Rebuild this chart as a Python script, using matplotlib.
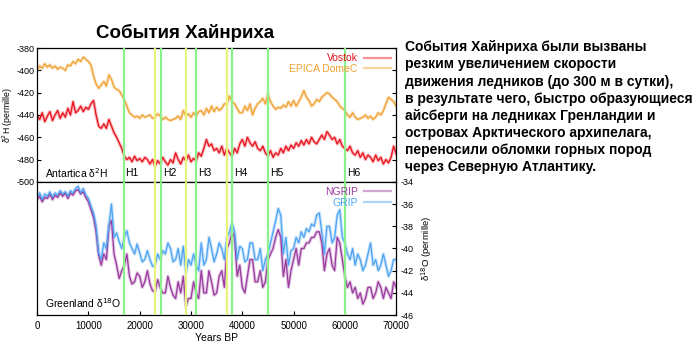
import numpy as np
import matplotlib
matplotlib.use("Agg")
import matplotlib.pyplot as plt

plt.rcParams['font.family'] = ['Liberation Sans', 'DejaVu Sans']
plt.rcParams['axes.unicode_minus'] = False

# years BP, 500-year step
years = list(range(0, 70001, 500))

vostok = [
    -440, -444, -438, -446, -441, -437, -445, -440, -436, -443,
    -438, -442, -434, -440, -428, -438, -436, -432, -437, -433,
    -435, -430, -427, -440, -450, -452, -448, -452, -444, -450,
    -456, -460, -465, -470, -477, -480, -478, -482, -477, -481,
    -479, -482, -478, -480, -484, -480, -486, -481, -484, -478,
    -482, -485, -480, -483, -474, -480, -484, -478, -481, -476,
    -482, -479, -481, -474, -477, -470, -462, -468, -466, -472,
    -470, -474, -468, -476, -470, -474, -477, -470, -474, -466,
    -462, -468, -460, -465, -468, -464, -470, -472, -468, -474,
    -477, -472, -478, -474, -476, -470, -474, -468, -472, -467,
    -470, -465, -468, -463, -467, -462, -466, -460, -464, -466,
    -462, -458, -462, -455, -458, -462, -460, -466, -462, -468,
    -470, -472, -468, -474, -476, -472, -478, -474, -480, -476,
    -478, -482, -476, -481, -478, -484, -480, -483, -478, -468,
    -475,
]

epica = [
    -400, -396, -398, -394, -397, -395, -398, -396, -399, -397,
    -398, -400, -395, -396, -392, -394, -390, -392, -388, -390,
    -392, -395, -405, -412, -416, -413, -410, -414, -404, -408,
    -415, -417, -418, -422, -426, -432, -438, -440, -442, -441,
    -443, -440, -442, -441, -440, -443, -442, -439, -441, -444,
    -442, -444, -445, -444, -443, -441, -444, -436, -441, -439,
    -442, -438, -441, -437, -436, -440, -434, -438, -432, -437,
    -433, -436, -434, -430, -430, -423, -428, -430, -434, -438,
    -438, -432, -436, -430, -440, -434, -430, -428, -425, -430,
    -421, -428, -432, -435, -433, -434, -431, -433, -428, -432,
    -427, -432, -428, -424, -418, -424, -427, -432, -430, -426,
    -428, -424, -422, -420, -421, -424, -426, -428, -432, -434,
    -436, -440, -442, -438, -442, -444, -443, -442, -440, -443,
    -441, -444, -442, -438, -440, -436, -430, -424, -426, -428,
    -432,
]

grip = [
    -35.4, -35.0, -35.6, -35.1, -35.3, -34.9, -35.4, -35.0, -35.2, -34.8,
    -35.1, -34.9, -35.3, -34.8, -35.0, -34.6, -34.4, -35.0, -34.6, -35.2,
    -35.5, -36.2, -36.8, -38.0, -40.4, -41.0, -39.5, -40.0, -37.9, -36.0,
    -39.0, -38.6, -39.4, -40.0, -39.0, -38.4, -39.5, -40.0, -40.5, -39.6,
    -40.4, -41.2, -41.0, -40.2, -41.0, -41.6, -41.5, -40.5, -41.0, -40.2,
    -40.5, -39.5, -40.0, -41.2, -41.0, -40.0, -41.5, -39.8, -42.2, -41.0,
    -41.5, -40.5, -41.5, -42.0, -39.5, -41.5, -41.0, -39.0, -40.0, -41.2,
    -40.5, -39.5, -40.0, -41.0, -39.0, -38.5, -37.7, -38.5, -41.0, -39.8,
    -40.0, -41.2, -41.0, -39.5, -39.5, -41.0, -41.0, -40.0, -42.0, -41.0,
    -40.5, -39.5, -38.5, -37.5, -36.4, -37.0, -40.5, -39.0, -41.5, -40.2,
    -40.0, -39.0, -39.5, -38.5, -39.0, -38.2, -38.5, -37.8, -38.0, -37.0,
    -36.8, -38.5, -40.5, -38.0, -38.0, -39.5, -39.0, -37.0, -36.5, -39.0,
    -39.5, -40.5, -41.0, -40.0, -41.5, -40.5, -41.0, -42.0, -41.5, -40.5,
    -39.5, -41.5, -41.0, -42.0, -41.5, -40.5, -41.5, -42.5, -42.0, -41.0,
    -41.0,
]

ngrip = [
    -35.6, -35.3, -35.8, -35.4, -35.5, -35.1, -35.6, -35.2, -35.4, -35.0,
    -35.3, -35.0, -35.5, -35.0, -35.2, -34.8, -34.7, -35.1, -34.9, -35.4,
    -35.8, -36.5, -37.2, -38.5, -40.6, -41.5, -40.5, -41.0, -38.0, -37.5,
    -40.5, -41.5, -42.7, -42.0, -41.5, -40.5, -42.5, -43.2, -43.0, -42.2,
    -42.5, -43.5, -43.0, -42.0, -43.2, -43.8, -43.9, -42.8, -43.5, -44.0,
    -44.0, -42.5, -43.5, -44.2, -44.5, -43.0, -44.0, -42.5, -45.2, -44.5,
    -44.5, -43.0, -44.0, -44.5, -42.0, -44.0, -44.0, -42.0, -43.0, -44.2,
    -44.0, -42.5, -42.0, -43.5, -40.0, -39.5, -38.5, -39.0, -42.5, -41.5,
    -43.5, -44.0, -42.5, -41.0, -41.0, -43.0, -43.0, -42.0, -43.5, -43.0,
    -41.0, -40.5, -40.0, -39.0, -38.3, -39.0, -42.5, -41.0, -43.5, -42.0,
    -41.0, -40.0, -41.5, -40.0, -40.0, -39.5, -39.5, -39.0, -39.0, -38.5,
    -38.5, -39.5, -42.0, -40.5, -40.0, -41.5, -42.0, -39.0, -39.5, -41.0,
    -42.5, -43.5, -43.0, -44.0, -43.5, -44.5, -44.0, -45.0, -44.5, -43.5,
    -43.5, -44.5, -44.0, -43.0, -43.5, -44.5, -43.5, -44.0, -44.5, -43.0,
    -43.5,
]

h_events = [16850, 24100, 31000, 38000, 45000, 60000]
h_labels = ['H1', 'H2', 'H3', 'H4', 'H5', 'H6']
yellow_lines = [22950, 29000, 37050]

c_vostok = '#e8101c'
c_epica = '#f0a030'
c_ngrip = '#9a3a9e'
c_grip = '#4ea4f4'
c_green = '#8cf08c'
c_yellow = '#e4f47c'

fig = plt.figure(figsize=(7, 3.49), dpi=100)
ax1 = fig.add_axes([0.053, 0.479, 0.513, 0.383])
ax2 = fig.add_axes([0.053, 0.097, 0.513, 0.382], sharex=ax1)


def halo_plot(ax, x, y, color, label):
    ax.plot(x, y, color=color, lw=2.4, alpha=0.3, zorder=2)
    ax.plot(x, y, color=color, lw=0.9, zorder=2.1, label=label)


halo_plot(ax1, years, vostok, c_vostok, 'Vostok')
halo_plot(ax1, years, epica, c_epica, 'EPICA DomeC')
halo_plot(ax2, years, ngrip, c_ngrip, 'NGRIP')
halo_plot(ax2, years, grip, c_grip, 'GRIP')

for ax in (ax1, ax2):
    for x in yellow_lines:
        ax.axvline(x, color=c_yellow, lw=1.6, zorder=3)
    for x in h_events:
        ax.axvline(x, color=c_green, lw=1.6, zorder=3)

ax1.set_xlim(0, 70000)
ax1.set_ylim(-500, -380)
ax2.set_ylim(-46, -34)

ax1.set_yticks(range(-380, -501, -20))
ax1.tick_params(axis='y', direction='in', labelsize=6.5, length=3, right=True, pad=2)
ax1.tick_params(axis='x', bottom=False, labelbottom=False)
ax1.set_ylabel('δ$^2$H (permille)', fontsize=6.3)
ax1.yaxis.set_label_coords(-0.062, 0.5)

ax2.set_yticks(range(-34, -47, -2))
ax2.yaxis.tick_right()
ax2.yaxis.set_label_position('right')
ax2.tick_params(axis='y', direction='in', labelsize=6.6, length=3, left=False, pad=3)
ax2.set_ylabel('δ$^{18}$O (permille)', fontsize=6.8, labelpad=4)
ax2.set_xticks(range(0, 70001, 10000))
ax2.tick_params(axis='x', direction='in', labelsize=7, length=3, pad=4)
ax2.set_xlabel('Years BP', fontsize=7.5, labelpad=2)

for ax in (ax1, ax2):
    for s in ax.spines.values():
        s.set_linewidth(0.9)

for x, lab in zip(h_events, h_labels):
    ax1.text(x + 400, -492, lab, fontsize=7.5, va='center', ha='left', zorder=4)

ax1.text(1500, -492, 'Antartica δ$^2$H', fontsize=7.5, va='center')
ax2.text(1500, -44.9, 'Greenland δ$^{18}$O', fontsize=7.5, va='center')

leg1 = ax1.legend(loc='upper right', fontsize=7.5, frameon=False, markerfirst=False,
                  handlelength=2.6, handletextpad=0.6, borderpad=0.2, labelspacing=0.05,
                  borderaxespad=0.3)
for t, c in zip(leg1.get_texts(), [c_vostok, c_epica]):
    t.set_color(c)
leg2 = ax2.legend(loc='upper right', fontsize=7.5, frameon=False, markerfirst=False,
                  handlelength=2.6, handletextpad=0.6, borderpad=0.2, labelspacing=0.05,
                  borderaxespad=0.3)
for t, c in zip(leg2.get_texts(), [c_ngrip, c_grip]):
    t.set_color(c)
for h in leg1.legend_handles + leg2.legend_handles:
    h.set_alpha(0.45)
    h.set_linewidth(1.6)

fig.text(0.265, 0.905, 'События Хайнриха', fontsize=13.5, fontweight='bold',
         ha='center', va='center')

paragraph = ('События Хайнриха были вызваны\n'
             'резким увеличением скорости\n'
             'движения ледников (до 300 м в сутки),\n'
             'в результате чего, быстро образующиеся\n'
             'айсберги на ледниках Гренландии и\n'
             'островах Арктического архипелага,\n'
             'переносили обломки горных пород\n'
             'через Северную Атлантику.')
fig.text(0.578, 0.885, paragraph, fontsize=10, fontweight='bold',
         ha='left', va='top', linespacing=1.29)

fig.savefig('out.png', dpi=100)
